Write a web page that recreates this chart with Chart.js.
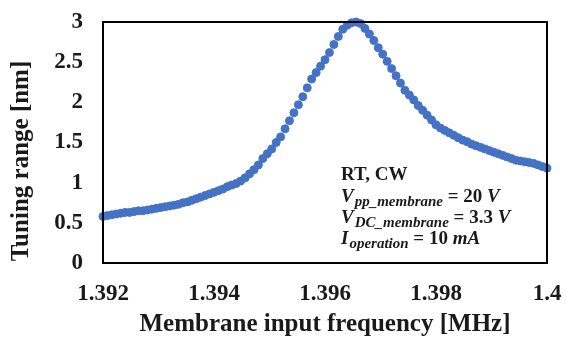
<!DOCTYPE html>
<html>
<head>
<meta charset="utf-8">
<script src="https://cdn.jsdelivr.net/npm/chart.js@4/dist/chart.umd.min.js"></script>
<style>
  html, body { margin: 0; padding: 0; background: #fff; }
  #wrap { width: 566px; height: 343px; }
</style>
</head>
<body>
<div id="wrap"><canvas id="tuningChart"></canvas></div>
<script>
// frequency sweep, MHz (step 0.08 kHz)
var freqStart = 1.392;
var freqStep = 0.00008;
var tuningRange = [
  0.58, 0.59, 0.60, 0.61, 0.62, 0.63, 0.63, 0.64, 0.65, 0.65,
  0.66, 0.67, 0.68, 0.69, 0.70, 0.71, 0.72, 0.73, 0.75, 0.76,
  0.78, 0.80, 0.82, 0.84, 0.86, 0.88, 0.90, 0.92, 0.95, 0.97,
  0.99, 1.02, 1.06, 1.11, 1.16, 1.22, 1.30, 1.36, 1.42, 1.50,
  1.57, 1.67, 1.77, 1.87, 1.97, 2.07, 2.18, 2.29, 2.37, 2.45,
  2.53, 2.62, 2.72, 2.82, 2.91, 2.96, 2.99, 3.00, 2.98, 2.92,
  2.85, 2.77, 2.68, 2.60, 2.51, 2.42, 2.33, 2.24, 2.15, 2.09,
  2.03, 1.96, 1.90, 1.84, 1.78, 1.72, 1.68, 1.65, 1.62, 1.59,
  1.56, 1.53, 1.51, 1.48, 1.46, 1.44, 1.42, 1.40, 1.38, 1.36,
  1.34, 1.32, 1.30, 1.28, 1.27, 1.26, 1.25, 1.24, 1.22, 1.20,
  1.18
];
var xTicks = [1.392, 1.394, 1.396, 1.398, 1.4];
var yTicks = [0, 0.5, 1, 1.5, 2, 2.5, 3];

var serif = '"Liberation Serif", "Times New Roman", serif';
var textColor = '#1a1a1a';

var points = [];
for (let i = 0; i < tuningRange.length; i++) {
    points.push({ x: freqStart + i * freqStep, y: tuningRange[i] });
}

// black box round the plot, y title, and the conditions text
const boxAndNote = {
    id: 'boxAndNote',
    afterDraw(chart) {
        const c = chart.ctx;
        const a = chart.chartArea;
        c.save();
        c.strokeStyle = '#000';
        c.lineWidth = 2;
        c.strokeRect(a.left, a.top, a.right - a.left, a.bottom - a.top);

        c.fillStyle = textColor;

        // y axis title (sits a bit below the middle in the original)
        c.save();
        c.translate(22, 161);
        c.rotate(-Math.PI / 2);
        c.textAlign = 'center';
        c.textBaseline = 'middle';
        c.font = 'bold 25px ' + serif;
        c.fillText('Tuning range [nm]', 0, 0);
        c.restore();

        c.textBaseline = 'alphabetic';
        c.font = 'bold 19px ' + serif;
        c.fillText('RT, CW', 341, 180);

        const lines = [
            ['V', 'pp_membrane', ' = 20 ', 'V', 202],
            ['V', 'DC_membrane', ' = 3.3 ', 'V', 223],
            ['I', 'operation', ' = 10 ', 'mA', 244]
        ];
        lines.forEach(function (l) {
            let x = 341;
            c.font = 'italic bold 19px ' + serif;
            c.fillText(l[0], x, l[4]);
            x += c.measureText(l[0]).width + 1;
            c.font = 'italic bold 15px ' + serif;
            c.fillText(l[1], x, l[4] + 4);
            x += c.measureText(l[1]).width;
            c.font = 'bold 19px ' + serif;
            c.fillText(l[2], x, l[4]);
            x += c.measureText(l[2]).width;
            c.font = 'italic bold 19px ' + serif;
            c.fillText(l[3], x, l[4]);
        });
        c.restore();
    }
};

new Chart(document.getElementById('tuningChart'), {
    type: 'scatter',
    data: {
        datasets: [{
            label: 'tuning range',
            data: points,
            backgroundColor: '#4472C4',
            borderColor: '#4472C4',
            pointRadius: 4,
            pointHoverRadius: 4,
            showLine: false,
            clip: false
        }]
    },
    options: {
        responsive: true,
        maintainAspectRatio: false,
        animation: false,
        layout: {
            autoPadding: false,
            padding: { top: 22, right: 19, left: 0, bottom: 0 }
        },
        plugins: {
            legend: { display: false },
            tooltip: { enabled: false }
        },
        scales: {
            x: {
                type: 'linear',
                min: 1.392,
                max: 1.4,
                afterFit(scale) {
                    scale.height = 80;
                    scale.paddingLeft = 0;
                    scale.paddingRight = 0;
                },
                afterBuildTicks(scale) {
                    scale.ticks = xTicks.map(v => ({ value: v }));
                },
                grid: { display: false, drawTicks: false },
                border: { display: false },
                ticks: {
                    color: textColor,
                    padding: 17,
                    maxRotation: 0,
                    font: { family: serif, size: 23, weight: 'bold' },
                    callback: v => String(parseFloat(v.toFixed(3)))
                },
                title: {
                    display: true,
                    text: 'Membrane input frequency [MHz]',
                    color: textColor,
                    padding: { top: 0, bottom: 3 },
                    font: { family: serif, size: 25, weight: 'bold' }
                }
            },
            y: {
                min: 0,
                max: 3,
                afterFit(scale) {
                    scale.width = 103;
                    scale.paddingTop = 0;
                    scale.paddingBottom = 0;
                },
                afterBuildTicks(scale) {
                    scale.ticks = yTicks.map(v => ({ value: v }));
                },
                grid: { display: false, drawTicks: false },
                border: { display: false },
                ticks: {
                    color: textColor,
                    padding: 20,
                    font: { family: serif, size: 23, weight: 'bold' },
                    callback: v => String(parseFloat(v.toFixed(1)))
                }
            }
        }
    },
    plugins: [boxAndNote]
});
</script>
</body>
</html>
